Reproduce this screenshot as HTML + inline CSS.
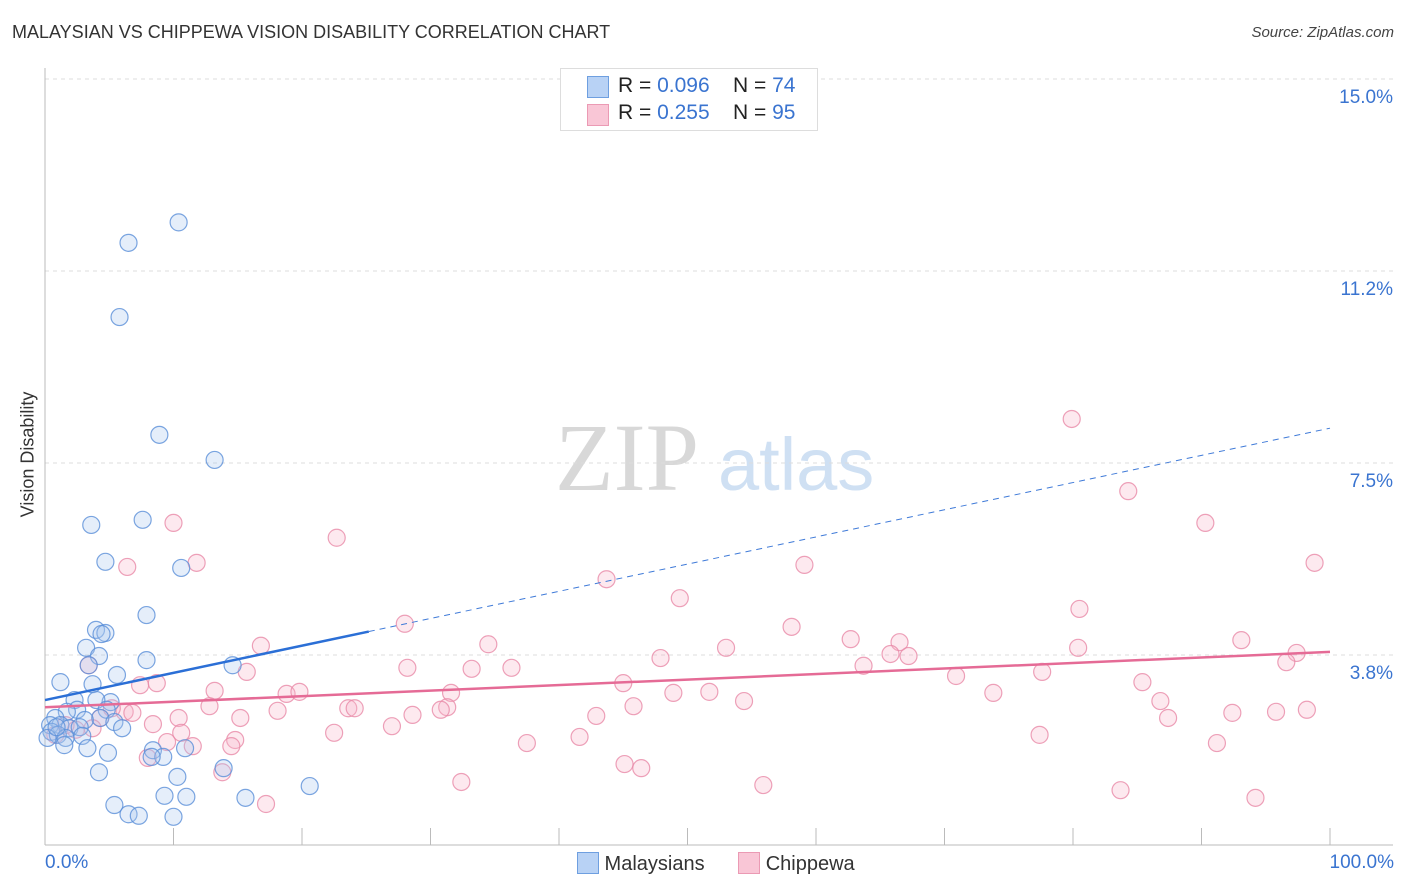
<!DOCTYPE html>
<html><head><meta charset="utf-8"><style>
body{margin:0;background:#fff;font-family:"Liberation Sans",sans-serif}
svg{display:block}
</style></head><body>
<svg id="c" width="1406" height="892"></svg>
<script>
const blueX=[10.4,6.5,5.8,8.9,13.2,3.6,7.6,4.7,10.6,7.9,3.97,4.7,4.4,3.2,4.2,7.9,14.6,3.4,5.6,1.2,3.7,2.3,5.1,4.0,2.5,4.8,1.7,4.3,0.8,5.4,3.1,6.0,1.2,1.9,0.4,2.7,0.5,1.0,0.2,1.6,2.9,1.5,3.3,4.9,8.4,10.9,9.2,8.3,4.2,13.9,10.3,20.6,9.3,11.0,15.6,5.4,6.5,7.3,10.0,0.9];
const blueY=[12.2,11.8,10.35,8.05,7.56,6.29,6.39,5.57,5.45,4.53,4.24,4.18,4.16,3.89,3.73,3.65,3.55,3.55,3.36,3.22,3.18,2.87,2.83,2.87,2.68,2.68,2.64,2.52,2.52,2.44,2.48,2.32,2.38,2.32,2.38,2.34,2.25,2.19,2.13,2.13,2.17,1.99,1.93,1.84,1.89,1.93,1.76,1.76,1.46,1.54,1.37,1.19,1.0,0.98,0.96,0.82,0.64,0.61,0.59,2.34];
const pinkX=[79.9,84.3,90.3,10.0,22.7,98.8,59.1,6.4,11.8,43.7,49.4,80.5,28.0,58.1,34.5,62.7,93.1,16.8,66.5,53.0,80.4,97.4,65.8,67.2,47.9,96.6,3.4,28.2,33.2,36.3,63.7,15.7,70.9,77.6,85.4,45.0,7.4,8.7,13.2,18.8,19.8,31.6,48.9,51.7,73.8,54.4,86.8,12.8,31.3,23.6,24.1,30.8,45.8,98.2,18.1,28.6,6.2,6.8,95.8,92.4,42.9,87.4,4.3,15.2,10.4,8.4,27.0,3.7,2.4,10.6,22.5,77.4,41.6,14.8,11.5,37.5,91.2,9.5,14.5,8.0,45.1,46.4,13.8,32.4,55.9,83.7,94.2,17.2,1.6,0.8,5.2];
const pinkY=[8.36,6.95,6.33,6.33,6.04,5.55,5.51,5.47,5.55,5.23,4.86,4.65,4.36,4.30,3.96,4.06,4.04,3.93,4.0,3.89,3.89,3.79,3.77,3.73,3.69,3.61,3.55,3.50,3.48,3.50,3.54,3.42,3.34,3.42,3.22,3.20,3.16,3.20,3.05,2.99,3.03,3.01,3.01,3.03,3.01,2.85,2.85,2.75,2.73,2.71,2.71,2.68,2.75,2.68,2.66,2.58,2.64,2.62,2.64,2.62,2.56,2.52,2.52,2.52,2.52,2.40,2.36,2.32,2.29,2.23,2.23,2.19,2.15,2.09,1.97,2.03,2.03,2.05,1.97,1.74,1.62,1.54,1.46,1.27,1.21,1.11,0.96,0.84,2.38,2.19,2.71];
const blueTrend=[2.87,8.18];
const pinkTrend=[2.73,3.81];
const yTicks=[3.75,7.5,11.25,15];
const yTickLabels=["3.8%","7.5%","11.2%","15.0%"];

const NS="http://www.w3.org/2000/svg";
const svg=document.getElementById('c');
const X=v=>45+v*12.85;
const Y=v=>847-v*51.2;
function el(t,a,p){const e=document.createElementNS(NS,t);for(const k in a)e.setAttribute(k,a[k]);(p||svg).appendChild(e);return e;}

let wm=el('text',{x:555,y:490,'font-family':'Liberation Serif,serif','font-size':96,fill:'#d8d8d8'});wm.textContent='ZIP';


let wm2=el('text',{x:718,y:490,'font-family':'Liberation Sans,sans-serif','font-size':74,fill:'#cfe0f3'});wm2.textContent='atlas';



yTicks.forEach((t,i)=>{
  const g=el('line',{x1:45,x2:1393,y1:Y(t),y2:Y(t),stroke:'#dcdcdc','stroke-dasharray':'4,4'});
  
  
  const l=el('text',{x:1393,y:Y(t)+24,'text-anchor':'end','font-size':19,fill:'#3a74d0'});l.textContent=yTickLabels[i];
  
  
});
let ax=el('line',{x1:45,x2:1393,y1:845,y2:845,stroke:'#bbb'});


let ay=el('line',{x1:45,x2:45,y1:68,y2:845,stroke:'#bbb'});


for(let i=0;i<=10;i++){
  const t=el('line',{x1:X(i*10),x2:X(i*10),y1:828,y2:845,stroke:'#bbb'});
  
  
}
function pts(xs,ys,fill,stroke,name){
  xs.forEach((x,i)=>{
    const c=el('circle',{cx:X(x),cy:Y(ys[i]),r:8.5,fill:fill,'fill-opacity':0.3,stroke:stroke,'stroke-width':1.2,'stroke-opacity':0.8});
    
    
  });
}
pts(pinkX,pinkY,'#f7b6cb','#e88aa8','chippewa-point');
pts(blueX,blueY,'#a9c8f0','#5a8fd8','malaysian-point');
const bx=25.2;
const by=v=>blueTrend[0]+(blueTrend[1]-blueTrend[0])*v/100;
let bt=el('line',{x1:X(0),y1:Y(by(0)),x2:X(bx),y2:Y(by(bx)),stroke:'#2b6fd6','stroke-width':2.5});


let bd=el('line',{x1:X(bx),y1:Y(by(bx)),x2:X(100),y2:Y(by(100)),stroke:'#3f7ad8','stroke-width':1,'stroke-dasharray':'6,5'});


let pt=el('line',{x1:X(0),y1:Y(pinkTrend[0]),x2:X(100),y2:Y(pinkTrend[1]),stroke:'#e56b96','stroke-width':2.5});


</script>
<div style="position:absolute;left:12px;top:22px;font-size:18px;color:#333">MALAYSIAN VS CHIPPEWA VISION DISABILITY CORRELATION CHART</div>
<div style="position:absolute;right:12px;top:24px;font-size:15px;color:#444;font-style:italic">Source: ZipAtlas.com</div>
<div style="position:absolute;left:-52px;top:444px;transform:rotate(-90deg);font-size:18px;color:#333;width:160px;text-align:center;white-space:nowrap">Vision Disability</div>
<div style="position:absolute;left:45px;top:852px;font-size:19px;color:#3a74d0">0.0%</div>
<div style="position:absolute;right:12px;top:852px;font-size:19px;color:#3a74d0">100.0%</div>
<div style="position:absolute;left:560px;top:68px;width:256px;height:61px;border:1px solid #ddd;background:#fff;font-size:21px;color:#222">
 <div style="position:absolute;left:26px;top:7px;width:20px;height:20px;background:#b8d2f5;border:1px solid #6e9fe0"></div>
 <div style="position:absolute;left:57px;top:5px;white-space:nowrap">R = <span style="color:#3a74d0">0.096</span>&nbsp;&nbsp;&nbsp; N = <span style="color:#3a74d0">74</span></div>
 <div style="position:absolute;left:26px;top:35px;width:20px;height:20px;background:#f9c6d6;border:1px solid #eb9ab4"></div>
 <div style="position:absolute;left:57px;top:32px;white-space:nowrap">R = <span style="color:#3a74d0">0.255</span>&nbsp;&nbsp;&nbsp; N = <span style="color:#3a74d0">95</span></div>
</div>
<div style="position:absolute;left:577px;top:852px;font-size:20px;color:#333;white-space:nowrap">
 <span><span style="display:inline-block;width:20px;height:20px;background:#b8d2f5;border:1px solid #6e9fe0;vertical-align:-4px"></span> Malaysians</span>
 <span style="margin-left:28px"><span style="display:inline-block;width:20px;height:20px;background:#f9c6d6;border:1px solid #eb9ab4;vertical-align:-4px"></span> Chippewa</span>
</div>
</body></html>
